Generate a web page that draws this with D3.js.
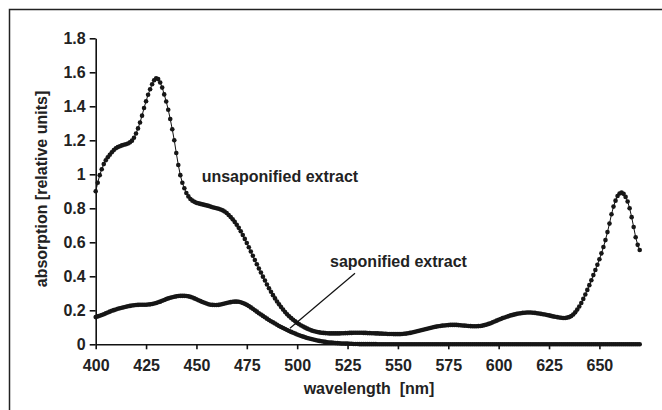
<!DOCTYPE html>
<html>
<head>
<meta charset="utf-8">
<script src="https://cdn.jsdelivr.net/npm/d3@7"></script>
<style>
  body { margin: 0; background: #fff; }
  text { font-family: "Liberation Sans", Arial, sans-serif; font-weight: bold; }
</style>
</head>
<body>
<div id="chart"></div>
<script>
// wavelength grid, 1 nm steps
var wavelengths = d3.range(400, 671);

// absorption of the unsaponified extract (400 .. 670 nm)
var unsaponified = [
  0.90, 0.95, 0.995, 1.03, 1.06, 1.083, 1.10, 1.115, 1.13, 1.143,
  1.153, 1.16, 1.165, 1.17, 1.174, 1.177, 1.181, 1.188, 1.198, 1.215,
  1.24, 1.27, 1.305, 1.345, 1.39, 1.43, 1.468, 1.50, 1.53, 1.553,
  1.565, 1.56, 1.54, 1.51, 1.47, 1.428, 1.38, 1.325, 1.265, 1.20,
  1.125, 1.055, 0.995, 0.95, 0.918, 0.89, 0.87, 0.855, 0.845, 0.838,
  0.832, 0.829, 0.826, 0.823, 0.82, 0.817, 0.814, 0.81, 0.806, 0.803,
  0.80, 0.797, 0.793, 0.788, 0.781, 0.772, 0.761, 0.749, 0.735, 0.72,
  0.703, 0.685, 0.665, 0.643, 0.62, 0.596, 0.571, 0.546, 0.521, 0.496,
  0.471, 0.446, 0.422, 0.398, 0.375, 0.352, 0.33, 0.309, 0.289, 0.27,
  0.252, 0.235, 0.219, 0.204, 0.19, 0.177, 0.165, 0.154, 0.144, 0.135,
  0.126, 0.118, 0.111, 0.104, 0.098, 0.092, 0.087, 0.082, 0.078, 0.075,
  0.072, 0.07, 0.068, 0.067, 0.066, 0.065, 0.064, 0.064, 0.064, 0.064,
  0.064, 0.064, 0.065, 0.065, 0.066, 0.066, 0.067, 0.067, 0.068, 0.068,
  0.068, 0.068, 0.068, 0.067, 0.067, 0.066, 0.066, 0.065, 0.065, 0.064,
  0.064, 0.063, 0.063, 0.062, 0.062, 0.061, 0.061, 0.061, 0.06, 0.06,
  0.06, 0.06, 0.061, 0.062, 0.063, 0.065, 0.067, 0.069, 0.072, 0.075,
  0.078, 0.081, 0.084, 0.087, 0.09, 0.093, 0.096, 0.099, 0.102, 0.104,
  0.106, 0.108, 0.11, 0.111, 0.112, 0.113, 0.114, 0.114, 0.114, 0.114,
  0.113, 0.112, 0.111, 0.11, 0.109, 0.108, 0.107, 0.106, 0.106, 0.106,
  0.107, 0.108, 0.11, 0.113, 0.116, 0.12, 0.124, 0.129, 0.134, 0.139,
  0.144, 0.149, 0.154, 0.158, 0.162, 0.166, 0.17, 0.173, 0.176, 0.179,
  0.181, 0.183, 0.185, 0.186, 0.187, 0.187, 0.187, 0.186, 0.185, 0.183,
  0.181, 0.179, 0.177, 0.175, 0.172, 0.17, 0.167, 0.164, 0.162, 0.16,
  0.158, 0.156, 0.155, 0.155, 0.157, 0.16, 0.166, 0.175, 0.188, 0.204,
  0.222, 0.243, 0.267, 0.293, 0.32, 0.348, 0.377, 0.407, 0.437, 0.468,
  0.50, 0.535, 0.572, 0.613, 0.66, 0.71, 0.765, 0.81, 0.845, 0.872,
  0.887, 0.892, 0.885, 0.867, 0.84, 0.80, 0.748, 0.69, 0.63, 0.585,
  0.555
];

// absorption of the saponified extract (400 .. 670 nm)
var saponified = [
  0.16, 0.164, 0.168, 0.172, 0.177, 0.182, 0.187, 0.192, 0.197, 0.201,
  0.205, 0.209, 0.212, 0.215, 0.218, 0.221, 0.224, 0.226, 0.228, 0.23,
  0.231, 0.232, 0.233, 0.233, 0.233, 0.233, 0.234, 0.235, 0.237, 0.24,
  0.243, 0.247, 0.251, 0.256, 0.261, 0.266, 0.27, 0.274, 0.277, 0.28,
  0.282, 0.284, 0.285, 0.285, 0.285, 0.284, 0.282, 0.279, 0.275, 0.27,
  0.265, 0.259, 0.254, 0.249, 0.244, 0.24, 0.236, 0.233, 0.232, 0.231,
  0.231, 0.232, 0.234, 0.237, 0.24, 0.243, 0.246, 0.248, 0.25, 0.251,
  0.251, 0.25, 0.247, 0.243, 0.238, 0.232, 0.225, 0.217, 0.209, 0.2,
  0.192, 0.183, 0.175, 0.167, 0.159, 0.151, 0.143, 0.136, 0.129, 0.122,
  0.115, 0.108, 0.102, 0.096, 0.09, 0.084, 0.078, 0.073, 0.068, 0.063,
  0.058, 0.053, 0.049, 0.045, 0.041, 0.037, 0.034, 0.031, 0.028, 0.025,
  0.022, 0.02, 0.018, 0.016, 0.014, 0.012, 0.011, 0.01, 0.009, 0.008,
  0.007, 0.006, 0.005, 0.005, 0.004, 0.004, 0.003, 0.003, 0.002, 0.002,
  0.002, 0.001, 0.001, 0.001, 0.001, 0.001, 0.001, 0.001, 0.001, 0.001,
  0, 0, 0, 0, 0, 0, 0, 0, 0, 0,
  0, 0, 0, 0, 0, 0, 0, 0, 0, 0,
  0, 0, 0, 0, 0, 0, 0, 0, 0, 0,
  0, 0, 0, 0, 0, 0, 0, 0, 0, 0,
  0, 0, 0, 0, 0, 0, 0, 0, 0, 0,
  0, 0, 0, 0, 0, 0, 0, 0, 0, 0,
  0, 0, 0, 0, 0, 0, 0, 0, 0, 0,
  0, 0, 0, 0, 0, 0, 0, 0, 0, 0,
  0, 0, 0, 0, 0, 0, 0, 0, 0, 0,
  0, 0, 0, 0, 0, 0, 0, 0, 0, 0,
  0, 0, 0, 0, 0, 0, 0, 0, 0, 0,
  0, 0, 0, 0, 0, 0, 0, 0, 0, 0,
  0, 0, 0, 0, 0, 0, 0, 0, 0, 0,
  0
];

var xTicks = [400, 425, 450, 475, 500, 525, 550, 575, 600, 625, 650];
var yTicks = [0, 0.2, 0.4, 0.6, 0.8, 1, 1.2, 1.4, 1.6, 1.8];
var yTickLabels = ["0", "0.2", "0.4", "0.6", "0.8", "1", "1.2", "1.4", "1.6", "1.8"];

var svgWidth = 662;
var svgHeight = 410;
var fontSize = "16px";

var svg = d3.select("#chart").append("svg")
    .attr("width", svgWidth)
    .attr("height", svgHeight);

// outer frame (right and bottom run off the picture)
svg.append("rect")
    .attr("x", 9.5)
    .attr("y", 9.5)
    .attr("width", 700)
    .attr("height", 500)
    .attr("fill", "none")
    .attr("stroke", "#222")
    .attr("stroke-width", 1.5);

var xScale = d3.scaleLinear().domain([400, 670]).range([95.7, 639.7]);
var yScale = d3.scaleLinear().domain([0, 1.8]).range([344.3, 38.3]);

// axes
var xAxis = d3.axisBottom(xScale)
    .tickValues(xTicks)
    .tickSizeInner(5)
    .tickSizeOuter(0)
    .tickPadding(10)
    .tickFormat(d3.format("d"));

var yAxis = d3.axisLeft(yScale)
    .tickValues(yTicks)
    .tickSizeInner(6)
    .tickSizeOuter(0)
    .tickPadding(4)
    .tickFormat(function(d, i) { return yTickLabels[i]; });

var gx = svg.append("g")
    .attr("transform", "translate(0," + yScale(0) + ")")
    .call(xAxis);

var gy = svg.append("g")
    .attr("transform", "translate(" + xScale(400) + ",0)")
    .call(yAxis);

[gx, gy].forEach(function(g) {
    g.attr("font-family", null).attr("font-size", null);
    g.selectAll("path, line").attr("stroke", "#111").attr("stroke-width", 1.6);
    g.selectAll("text")
        .attr("fill", "#222")
        .style("font-size", fontSize)
        .style("font-weight", "bold");
});

// series
var series = [
    {name: "saponified", values: saponified},
    {name: "unsaponified", values: unsaponified}
];

var line = d3.line()
    .x(function(d) { return xScale(d[0]); })
    .y(function(d) { return yScale(d[1]); });

series.forEach(function(s) {
    var pts = wavelengths.map(function(w, i) { return [w, s.values[i]]; });

    svg.append("path")
        .datum(pts)
        .attr("fill", "none")
        .attr("stroke", "#111")
        .attr("stroke-width", 1)
        .attr("d", line);

    svg.append("g").selectAll("circle")
        .data(pts)
        .enter()
        .append("circle")
        .attr("cx", function(d) { return xScale(d[0]); })
        .attr("cy", function(d) { return yScale(d[1]); })
        .attr("r", 2.3)
        .attr("fill", "#161616");
});

// annotations
svg.append("text")
    .attr("x", xScale(452.6))
    .attr("y", yScale(0.955))
    .attr("fill", "#222")
    .style("font-size", fontSize)
    .text("unsaponified extract");

svg.append("text")
    .attr("x", xScale(516.3))
    .attr("y", yScale(0.455))
    .attr("fill", "#222")
    .style("font-size", fontSize)
    .text("saponified extract");

svg.append("line")
    .attr("x1", xScale(528.7))
    .attr("y1", yScale(0.418))
    .attr("x2", xScale(496.4))
    .attr("y2", yScale(0.094))
    .attr("stroke", "#111")
    .attr("stroke-width", 1.2);

// axis titles
svg.append("text")
    .attr("x", 369)
    .attr("y", 394)
    .attr("text-anchor", "middle")
    .attr("fill", "#222")
    .style("font-size", fontSize)
    .style("white-space", "pre")
    .text("wavelength  [nm]");

svg.append("text")
    .attr("transform", "translate(47,189) rotate(-90)")
    .attr("text-anchor", "middle")
    .attr("fill", "#222")
    .style("font-size", fontSize)
    .text("absorption [relative units]");
</script>
</body>
</html>
